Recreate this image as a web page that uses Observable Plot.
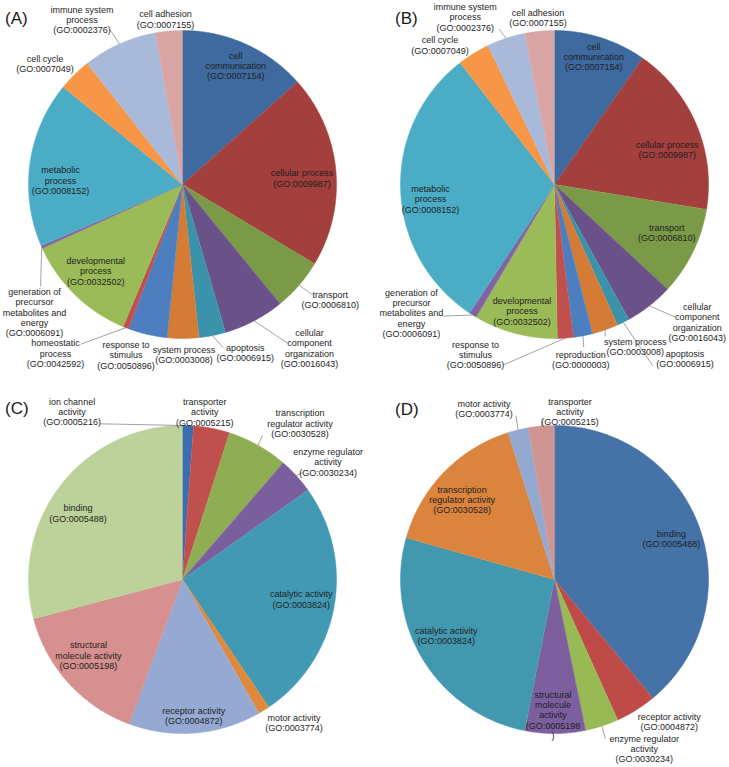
<!DOCTYPE html>
<html>
<head>
<meta charset="utf-8">
<script src="https://cdn.jsdelivr.net/npm/d3@7"></script>
<script src="https://cdn.jsdelivr.net/npm/@observablehq/plot@0.6"></script>
<style>
  html, body { margin: 0; padding: 0; background: #fff; }
  #wrap { position: relative; width: 729px; height: 767px; overflow: hidden; background: #fff;
          font-family: "Liberation Sans", Arial, sans-serif; }
  .panel { position: absolute; }
  .tag { position: absolute; font-size: 17px; line-height: 17px; color: #1a1a1a; }
</style>
</head>
<body>
<div id="wrap"></div>
<script>
// ---------------- DATA ----------------
// (A) biological process
const labelsA = [
  "cell\ncommunication\n(GO:0007154)",
  "cellular process\n(GO:0009987)",
  "transport\n(GO:0006810)",
  "cellular\ncomponent\norganization\n(GO:0016043)",
  "apoptosis\n(GO:0006915)",
  "system process\n(GO:0003008)",
  "response to\nstimulus\n(GO:0050896)",
  "homeostatic\nprocess\n(GO:0042592)",
  "developmental\nprocess\n(GO:0032502)",
  "generation of\nprecursor\nmetabolites and\nenergy\n(GO:0006091)",
  "metabolic\nprocess\n(GO:0008152)",
  "cell cycle\n(GO:0007049)",
  "immune system\nprocess\n(GO:0002376)",
  "cell adhesion\n(GO:0007155)"
];
const valuesA = [13.4, 20.2, 5.5, 6.4, 2.8, 3.3, 4.1, 0.6, 11.9, 0.3, 17.4, 3.5, 7.8, 2.8];

// (B) biological process
const labelsB = [
  "cell\ncommunication\n(GO:0007154)",
  "cellular process\n(GO:0009987)",
  "transport\n(GO:0006810)",
  "cellular\ncomponent\norganization\n(GO:0016043)",
  "apoptosis\n(GO:0006915)",
  "system process\n(GO:0003008)",
  "reproduction\n(GO:0000003)",
  "response to\nstimulus\n(GO:0050896)",
  "developmental\nprocess\n(GO:0032502)",
  "generation of\nprecursor\nmetabolites and\nenergy\n(GO:0006091)",
  "metabolic\nprocess\n(GO:0008152)",
  "cell cycle\n(GO:0007049)",
  "immune system\nprocess\n(GO:0002376)",
  "cell adhesion\n(GO:0007155)"
];
const valuesB = [9.7, 17.9, 9.3, 5.1, 1.3, 2.75, 2.0, 1.67, 8.8, 0.8, 30.2, 3.4, 4.0, 3.1];

// (C) molecular function
const labelsC = [
  "ion channel\nactivity\n(GO:0005216)",
  "transporter\nactivity\n(GO:0005215)",
  "transcription\nregulator activity\n(GO:0030528)",
  "enzyme regulator\nactivity\n(GO:0030234)",
  "catalytic activity\n(GO:0003824)",
  "motor activity\n(GO:0003774)",
  "receptor activity\n(GO:0004872)",
  "structural\nmolecule activity\n(GO:0005198)",
  "binding\n(GO:0005488)"
];
const valuesC = [1.14, 3.8, 6.4, 3.8, 25.4, 1.2, 13.9, 15.25, 29.1];

// (D) molecular function
const labelsD = [
  "binding\n(GO:0005488)",
  "receptor activity\n(GO:0004872)",
  "enzyme regulator\nactivity\n(GO:0030234)",
  "structural\nmolecule\nactivity\n(GO:0005198\n)",
  "catalytic activity\n(GO:0003824)",
  "transcription\nregulator activity\n(GO:0030528)",
  "motor activity\n(GO:0003774)",
  "transporter\nactivity\n(GO:0005215)"
];
const valuesD = [38.97, 4.3, 3.5, 6.33, 26.25, 15.78, 2.14, 2.72];

const panelTags = ["(A)", "(B)", "(C)", "(D)"];

// ---------------- STYLE / LAYOUT ----------------
const colorsA = ["#3F6A9F", "#A33F3C", "#7B9A48", "#6A5189", "#3B93AB", "#D47C36", "#4D7FC0",
                 "#C0504D", "#9BBB59", "#8064A2", "#4BACC6", "#F79646", "#A9B9D9", "#D9A5A4"];
const colorsB = ["#3F6A9F", "#A33F3C", "#7B9A48", "#6A5189", "#3B93AB", "#D47C36", "#4D7FC0",
                 "#C0504D", "#9BBB59", "#8064A2", "#4BACC6", "#F79646", "#A9B9D9", "#D9A5A4"];
const colorsC = ["#3C6DB0", "#C0504D", "#8FAD52", "#7B5E9E", "#4299B3", "#E0893A", "#95A9D3", "#D5908F", "#BDD19A"];
const colorsD = ["#4572A7", "#BE4B48", "#98B954", "#7D5FA0", "#4198AF", "#DB843D", "#93A9CF", "#D09493"];

// label placement: [radius factor at slice mid-angle, nudge x px, nudge y px, leader end dx, leader end dy]
const layoutA = [[0.845, 0, 0], [0.78, 0, 5], [1.2, 8, -6, -18, -5], [1.2, 41, 0, -22, -5],
  [1.1, 30, 2, -22, -5], [1.1, 1, 1], [1.13, -17, 1], [1.2, -59, -3, 25, -9], [0.8, -1, -2],
  [1.2, 21, 53, 6, -26], [0.8, 0, 13], [1.2, -8, 11], [1.2, -25, 4, 28, 10], [1.07, -2.5, -1]];
const layoutB = [[0.87, -1, 0], [0.77, 3.5, 11], [0.8, 1.5, -6], [1.2, 29, -8, -22, -5],
  [1.2, 48, 9, -32, 7], [1.1, 25, 2, -30, -10], [1.15, -6.5, 1, 3, -12], [1.2, -92, -14, 28, 10],
  [0.85, 1, 0], [1.2, -45, -28, 32, 3], [0.81, 0.6, 10], [1.2, -17.5, 18], [1.2, -31, 8, 34, 12], [1.1, 0, 2]];
const layoutC = [[1.2, -117, 17, 28, 12], [1.1, -10, -1], [1.2, 27, 5, -37.5, 12], [1.2, 9, 7, -25.5, 10.5],
  [0.78, 0.5, -1.5], [1.1, 22, -0.5], [0.886, 0, 0], [0.785, -4.6, -5.4], [0.8, -7, 9]];
const layoutD = [[0.8, 1, 1], [1.15, 21, -8], [1.2, 33, -6.5, -39, -10], [0.88, -2, 0],
  [0.79, -4.6, -7.4], [0.79, -5, 5], [1.2, -27, 8.6, 32, 7], [1.1, 30, 1, -28, 6.7]];

const R = 154;          // pie radius in px
const FONT = "Liberation Sans, Arial, sans-serif";

function piePanel(labels, values, colors, layout, W, H, cx, cy) {
  const arcs = d3.pie().sort(null).value(d => d)(values);
  const poly = [];
  arcs.forEach((a, i) => {
    const n = Math.max(2, Math.ceil((a.endAngle - a.startAngle) / (Math.PI / 360)));
    poly.push({k: labels[i], px: 0, py: 0});
    for (let j = 0; j <= n; j++) {
      const t = a.startAngle + (a.endAngle - a.startAngle) * j / n;
      poly.push({k: labels[i], px: Math.sin(t), py: Math.cos(t)});
    }
  });
  const texts = arcs.map((a, i) => {
    const m = (a.startAngle + a.endAngle) / 2;
    const [rf, dx, dy, lx, ly] = layout[i];
    const x = rf * Math.sin(m) + dx / R;
    const y = rf * Math.cos(m) - dy / R;
    return {label: labels[i], x, y, m, lead: lx !== undefined ? [x + lx / R, y - ly / R] : null};
  });
  const leads = texts.filter(d => d.lead).map(d => ({
    x1: Math.sin(d.m), y1: Math.cos(d.m), x2: d.lead[0], y2: d.lead[1]
  }));
  return Plot.plot({
    width: W, height: H, margin: 0,
    x: {domain: [-cx / R, (W - cx) / R], axis: null},
    y: {domain: [-(H - cy) / R, cy / R], axis: null},
    color: {domain: labels, range: colors},
    style: {fontFamily: FONT, background: "transparent", maxWidth: "none"},
    marks: [
      Plot.line(poly, {x: "px", y: "py", z: "k", fill: "k", stroke: "k", strokeWidth: 0.5, curve: "linear"}),
      Plot.link(leads, {x1: "x1", y1: "y1", x2: "x2", y2: "y2", stroke: "#8a8a8a", strokeWidth: 0.8}),
      Plot.text(texts, {x: "x", y: "y", text: "label", fontSize: 9, lineHeight: 1.15,
        lineAnchor: "middle", textAnchor: "middle", fill: "#1e1e1e", fontFamily: FONT})
    ]
  });
}

const wrap = document.getElementById("wrap");
const specs = [
  {labels: labelsA, values: valuesA, colors: colorsA, layout: layoutA, left: 0,   top: 0,   H: 395, tagL: 5,   tagT: 10},
  {labels: labelsB, values: valuesB, colors: colorsB, layout: layoutB, left: 372, top: 0,   H: 395, tagL: 395, tagT: 10},
  {labels: labelsC, values: valuesC, colors: colorsC, layout: layoutC, left: 0,   top: 395, H: 372, tagL: 5,   tagT: 400},
  {labels: labelsD, values: valuesD, colors: colorsD, layout: layoutD, left: 372, top: 395, H: 372, tagL: 395, tagT: 401}
];
specs.forEach((s, i) => {
  const div = document.createElement("div");
  div.className = "panel";
  div.style.left = s.left + "px";
  div.style.top = s.top + "px";
  div.style.width = "364px";
  div.style.height = s.H + "px";
  div.appendChild(piePanel(s.labels, s.values, s.colors, s.layout, 364, s.H, 182, 184));
  wrap.appendChild(div);
  const tag = document.createElement("div");
  tag.className = "tag";
  tag.style.left = s.tagL + "px";
  tag.style.top = s.tagT + "px";
  tag.textContent = panelTags[i];
  wrap.appendChild(tag);
});
</script>
</body>
</html>
